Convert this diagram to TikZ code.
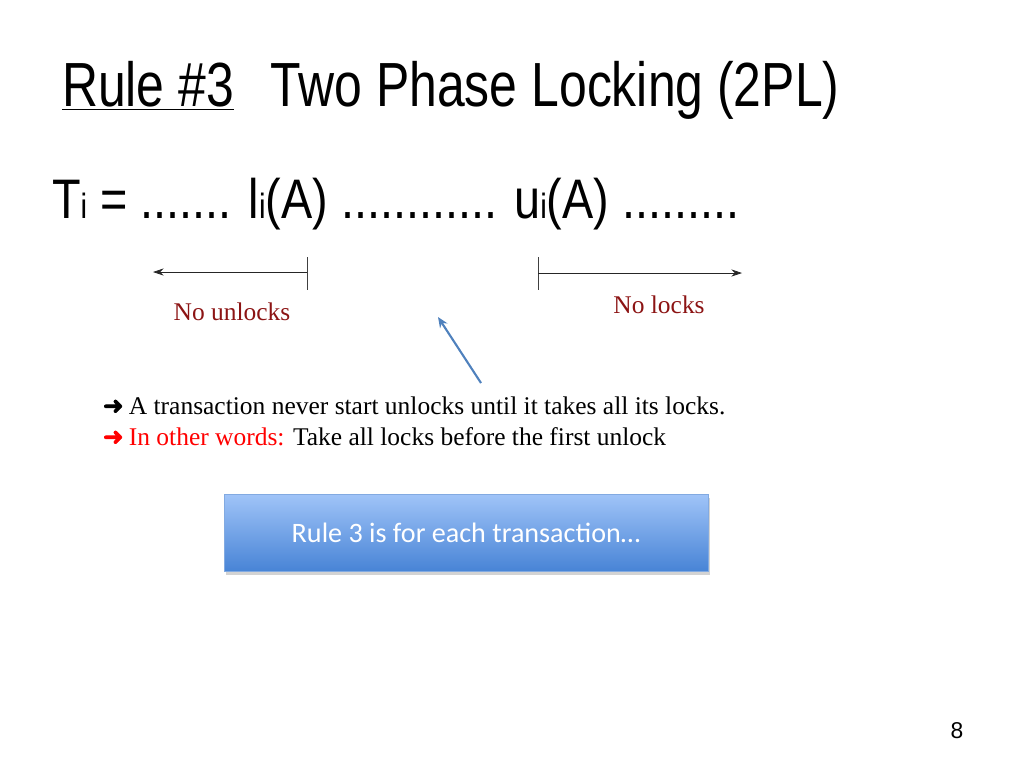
\documentclass[tikz,border=0pt]{standalone}
\usepackage{fontspec}
\setmainfont{Liberation Serif}
\newfontfamily\narrowfont[FakeStretch=0.80]{Liberation Sans}
\newfontfamily\schedfont[FakeStretch=0.84]{Liberation Sans}
\newfontfamily\boxfont{Carlito}
\newfontfamily\symfont[FakeBold=2.5]{DejaVu Sans}
\newfontfamily\pagefont{Liberation Sans}
\usetikzlibrary{positioning,arrows.meta,calc,shadows}
\definecolor{LockRed}{RGB}{140,20,20}
\definecolor{PointBlue}{RGB}{79,129,189}
\definecolor{BoxTop}{RGB}{160,196,248}
\definecolor{BoxBottom}{RGB}{72,132,214}
\definecolor{BoxEdge}{RGB}{130,170,225}
\newcommand\lockidx{{\fontsize{20}{20}\selectfont i}}
\newcommand\heavyarrow{{\symfont\fontsize{14}{14}\selectfont ➜}\hspace{3pt}}

\begin{document}
\begin{tikzpicture}[x=0.02cm, y=-0.02cm,
  every node/.style={inner sep=0pt, outer sep=0pt},
  phase/.style={-{Stealth[length=6pt,width=4pt]}, thin, black!85},
  phasetick/.style={thin, black!75},
  lockname/.style={font=\fontsize{14.5}{16}\selectfont, text=LockRed},
  bullet/.style={anchor=base west, font=\fontsize{14.5}{16}\selectfont},
  notebox/.style={draw=BoxEdge, top color=BoxTop, bottom color=BoxBottom,
    minimum width=9.68cm, minimum height=1.54cm, text=white,
    font=\boxfont\fontsize{16}{18}\selectfont,
    drop shadow={opacity=0.35, shadow xshift=1pt, shadow yshift=-2pt}}]
  \useasboundingbox (0,0) rectangle (1024,768);

  \node[anchor=base west, font=\narrowfont\fontsize{35.5}{40}\selectfont] (title) at (62,106)
    {\underline{Rule \#3}\hspace{21pt}Two Phase Locking (2PL)};
  \node[anchor=base west, font=\schedfont\fontsize{31.7}{36}\selectfont] (sched) at (52,218)
    {T\lockidx{} = ....... l\lockidx(A) ............ u\lockidx(A) .........};

  % growing and shrinking phase
  \coordinate (growend) at (307,272);
  \coordinate (growtip) at (153,272);
  \coordinate (shrinkstart) at (538,273);
  \coordinate (shrinktip) at (742,273);
  \draw[phasetick] (growend) ++(0,-15) -- ++(0,33);
  \draw[phasetick] (shrinkstart) ++(0,-16) -- ++(0,33);
  \draw[phase] (growend) -- (growtip);
  \draw[phase] (shrinkstart) -- (shrinktip);
  \node[lockname] (nounlock) at (232,312) {No unlocks};
  \node[lockname] (nolock) at (659,305) {No locks};

  \coordinate (pointtail) at (481,383);
  \coordinate (pointtip) at (438,317);
  \draw[-{Stealth[length=6pt,width=5pt]}, PointBlue, line width=1.2pt] (pointtail) -- (pointtip);

  \node[bullet] (rule1) at (103,414)
    {\heavyarrow A transaction never start unlocks until it takes all its locks.};
  \node[bullet] (rule2) at (103,445)
    {\textcolor{red}{\heavyarrow}\textcolor{red}{In other words:} Take all locks before the first unlock};

  \node[notebox] (note) at (466,532.5) {Rule 3 is for each transaction…};

  \node[font=\pagefont\fontsize{13}{14}\selectfont] (pagenum) at (957,731) {8};
\end{tikzpicture}
\end{document}
